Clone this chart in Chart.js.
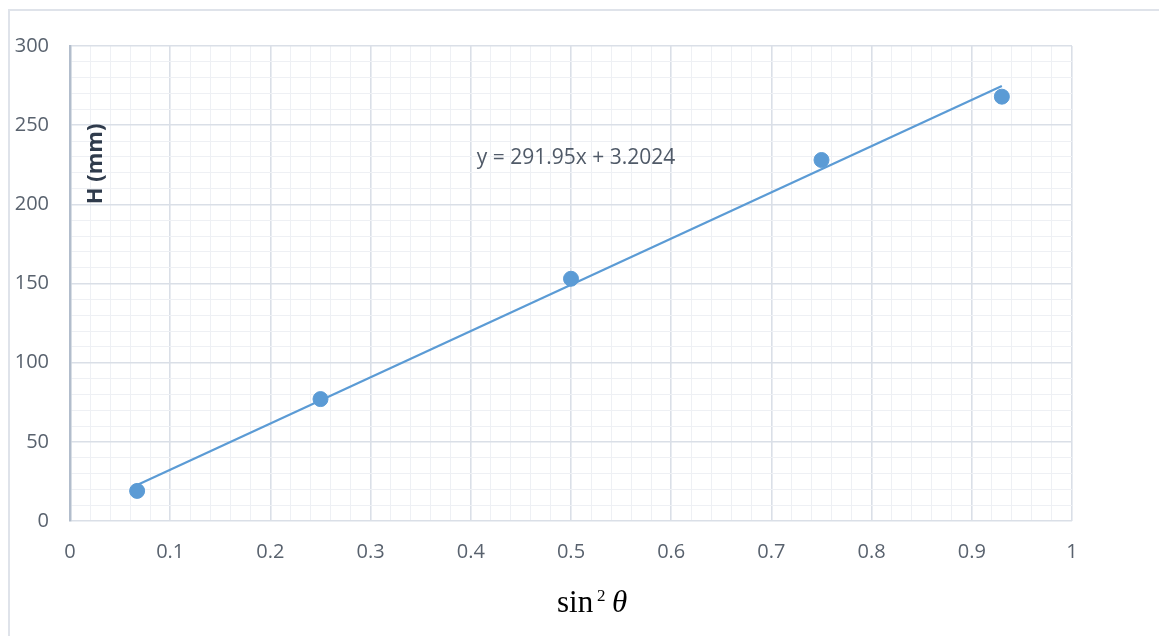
<!DOCTYPE html>
<html>
<head>
<meta charset="utf-8">
<script src="https://cdn.jsdelivr.net/npm/chart.js@4.4.1/dist/chart.umd.min.js"></script>
<style>
  html, body { margin: 0; padding: 0; background: #fff; }
  #wrap { position: relative; width: 1159px; height: 636px; overflow: hidden; }
  #frame { position: absolute; left: 8px; top: 9px; right: -4px; bottom: -4px;
           border-left: 2px solid #dfe3ea; border-top: 2px solid #dfe3ea; }
  canvas { position: absolute; left: 0; top: 0; }
</style>
</head>
<body>
<div id="wrap">
  <div id="frame"></div>
  <canvas id="chart" width="1159" height="636"></canvas>
</div>
<script>
// measured points
const sinSq = [0.067, 0.25, 0.5, 0.75, 0.93];
const heights = [19, 77, 153, 228, 268];

// linear fit shown on the chart
const fitCoef = [291.95, 3.2024]; // slope, intercept
const fitRange = [0.067, 0.93];

const xTicks = [0, 0.1, 0.2, 0.3, 0.4, 0.5, 0.6, 0.7, 0.8, 0.9, 1];
const yTicks = [0, 50, 100, 150, 200, 250, 300];

const tickColor = "#59626e";
const majorGrid = "#dadfe7";
const minorGrid = "#eef0f4";
const blue = "#5b9bd5";

const points = sinSq.map((x, i) => ({ x: x, y: heights[i] }));
const fitLine = fitRange.map(x => ({ x: x, y: fitCoef[0] * x + fitCoef[1] }));

function isMajorX(v) { return xTicks.some(t => Math.abs(t - v) < 1e-6); }
function isMajorY(v) { return yTicks.some(t => Math.abs(t - v) < 1e-6); }

const labelsPlugin = {
  id: "labels",
  afterDraw(chart) {
    const ctx = chart.ctx;
    ctx.save();
    // y axis title sits inside the plot
    ctx.translate(96, 164);
    ctx.rotate(-Math.PI / 2);
    ctx.fillStyle = "#2f3b4c";
    ctx.font = "bold 22px 'Open Sans'";
    ctx.textAlign = "center";
    ctx.textBaseline = "middle";
    ctx.fillText("H (mm)", 0, 0);
    ctx.restore();

    // equation
    ctx.save();
    ctx.fillStyle = "#505a68";
    ctx.font = "21px 'Open Sans'";
    ctx.textAlign = "center";
    ctx.textBaseline = "middle";
    ctx.fillText("y = 291.95x + 3.2024", 576, 158);
    ctx.restore();

    // x axis title: sin² θ
    ctx.save();
    ctx.fillStyle = "#000";
    ctx.textBaseline = "alphabetic";
    ctx.font = "31px 'Liberation Serif'";
    ctx.fillText("sin", 557, 612);
    ctx.font = "17px 'Liberation Serif'";
    ctx.fillText("2", 597, 601);
    ctx.font = "italic 31px 'Liberation Serif'";
    ctx.fillText("\u03B8", 612, 612);
    ctx.restore();
  }
};

new Chart(document.getElementById("chart"), {
  type: "scatter",
  data: {
    datasets: [
      {
        label: "H",
        data: points,
        backgroundColor: blue,
        borderColor: blue,
        pointRadius: 7.5,
        pointHoverRadius: 7.5
      },
      {
        label: "fit",
        data: fitLine,
        showLine: true,
        borderColor: blue,
        borderWidth: 2.2,
        pointRadius: 0
      }
    ]
  },
  options: {
    responsive: false,
    animation: false,
    layout: { padding: { left: 0, right: 87, top: 46, bottom: 0 } },
    plugins: { legend: { display: false }, tooltip: { enabled: false } },
    scales: {
      x: {
        type: "linear",
        min: 0,
        max: 1,
        afterFit(scale) { scale.height = 115; },
        afterBuildTicks(scale) {
          const t = [];
          for (let i = 0; i <= 50; i++) t.push({ value: i / 50 });
          scale.ticks = t;
        },
        ticks: {
          padding: 19,
          color: tickColor,
          font: { family: "'Open Sans'", size: 20 },
          maxRotation: 0,
          autoSkip: false,
          callback: v => isMajorX(v) ? String(Math.round(v * 10) / 10) : ""
        },
        grid: {
          drawTicks: false,
          color: c => isMajorX(c.tick.value) ? majorGrid : minorGrid,
          lineWidth: c => isMajorX(c.tick.value) ? 1.6 : 1
        },
        border: { display: false }
      },
      y: {
        type: "linear",
        min: 0,
        max: 300,
        afterFit(scale) { scale.width = 70; },
        afterBuildTicks(scale) {
          const t = [];
          for (let i = 0; i <= 30; i++) t.push({ value: i * 10 });
          scale.ticks = t;
        },
        ticks: {
          padding: 21,
          color: tickColor,
          font: { family: "'Open Sans'", size: 20 },
          autoSkip: false,
          callback: v => isMajorY(v) ? String(v) : ""
        },
        grid: {
          drawTicks: false,
          color: c => isMajorY(c.tick.value) ? majorGrid : minorGrid,
          lineWidth: c => isMajorY(c.tick.value) ? 1.6 : 1
        },
        border: { display: true, color: "#b2bdcc", width: 2.5 }
      }
    }
  },
  plugins: [labelsPlugin]
});
</script>
</body>
</html>
